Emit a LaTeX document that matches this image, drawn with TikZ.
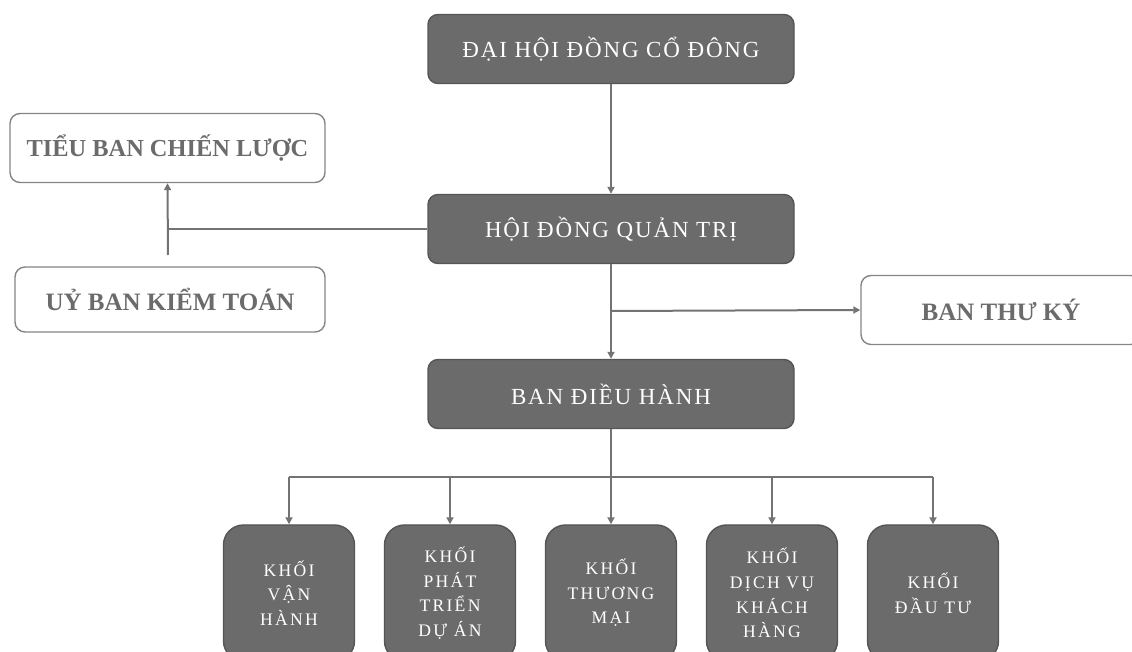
\documentclass[tikz,border=0pt]{standalone}
\usepackage{fontspec}
\setmainfont{Liberation Serif}
\usetikzlibrary{arrows.meta}
\definecolor{boardgrey}{HTML}{6b6b6b}
\definecolor{edgegrey}{HTML}{555555}
\definecolor{linegrey}{HTML}{737373}
\definecolor{framegrey}{HTML}{858585}
\colorlet{labelgrey}{boardgrey}

\tikzset{
  board/.style={draw=edgegrey, fill=boardgrey, line width=0.7pt, rounded corners=5pt,
    text=white, inner sep=0pt, minimum width=183pt, minimum height=34.5pt,
    font=\fontsize{11.5}{13}\selectfont\addfontfeature{LetterSpace=8}},
  panel/.style={draw=framegrey, fill=white, line width=0.7pt, rounded corners=5pt,
    text=labelgrey, inner sep=0pt, minimum height=34.5pt,
    font=\fontsize{12.5}{14}\selectfont\bfseries},
  block/.style={draw=edgegrey, fill=boardgrey, line width=0.7pt, rounded corners=10pt,
    text=white, inner sep=0pt, minimum width=65.5pt, minimum height=68pt, align=center,
    font=\fontsize{8.8}{12.3}\selectfont\addfontfeature{LetterSpace=13}},
  link/.style={draw=linegrey, line width=1pt},
  arr/.style={link, -{Triangle[length=3.5pt, width=3.5pt]}}
}

\begin{document}
\begin{tikzpicture}[x=0.5pt, y=-0.5pt]
  \useasboundingbox (0,0) rectangle (1132,652);
  \clip (0,0) rectangle (1132,652);

  % main line
  \node[board] (dhdcd) at (611,  49) {ĐẠI HỘI ĐỒNG CỔ ĐÔNG};
  \node[board] (hdqt)  at (611, 229) {HỘI ĐỒNG QUẢN TRỊ};
  \node[board] (bdh)   at (611, 394) {BAN ĐIỀU HÀNH};

  % side panels
  \node[panel, minimum width=157.5pt, font=\fontsize{12.2}{14}\selectfont\bfseries] (tbcl) at (167.5, 148) {TIỂU BAN CHIẾN LƯỢC};
  \node[panel, minimum width=155pt, minimum height=32.5pt] (ubkt) at (170,   299.5) {UỶ BAN KIỂM TOÁN};
  \node[panel, minimum width=140pt]                       (btk)  at (1001,  310) {BAN THƯ KÝ};

  % blocks
  \node[block] (k1) at (289, 593) {KHỐI\\VẬN\\HÀNH};
  \node[block] (k2) at (450, 593) {KHỐI\\PHÁT\\TRIỂN\\DỰ ÁN};
  \node[block] (k3) at (611, 593) {KHỐI\\THƯƠNG\\MẠI};
  \node[block] (k4) at (772, 593) {KHỐI\\DỊCH VỤ\\KHÁCH\\HÀNG};
  \node[block] (k5) at (933, 593) {KHỐI\\ĐẦU TƯ};

  % connectors
  \coordinate (kt)  at (168, 255);
  \coordinate (tk)  at (611, 311);
  \coordinate (bus) at (611, 477);

  \draw[arr]  (dhdcd) -- (hdqt);
  \draw[link] (hdqt.west) -- (tbcl.south |- hdqt.west);
  \draw[arr]  (kt) -- (tbcl.south);
  \draw[arr]  (hdqt) -- (bdh);
  \draw[arr]  (tk) -- (btk.west);
  \draw[link] (bdh.south) -- (bus);
  \draw[link] (k1.north |- bus) -- (k5.north |- bus);
  \foreach \k in {k1, k2, k3, k4, k5}
    \draw[arr] (\k.north |- bus) -- (\k.north);
\end{tikzpicture}
\end{document}
